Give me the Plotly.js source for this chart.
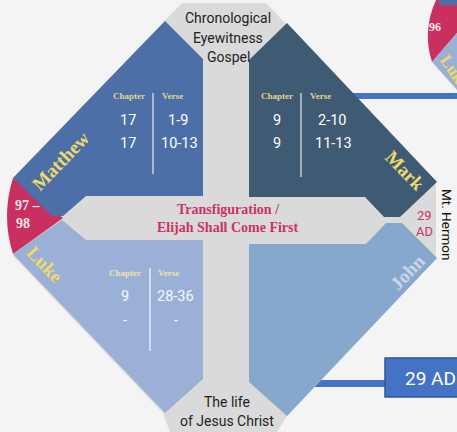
<!DOCTYPE html>
<html><head><meta charset="utf-8">
<script src="https://cdn.plot.ly/plotly-3.0.1.min.js"></script>
<style>html,body{margin:0;padding:0;background:#f4f4f4;overflow:hidden}#chart{width:457px;height:432px;}</style>
</head><body><div id="chart"></div>
<script>
// ---- content ----
const gospels = ['Matthew', 'Mark', 'Luke', 'John'];
const colHeaders = ['Chapter', 'Verse'];
const matthewChapters = ['17', '17'];
const matthewVerses = ['1-9', '10-13'];
const markChapters = ['9', '9'];
const markVerses = ['2-10', '11-13'];
const lukeChapters = ['9', '-'];
const lukeVerses = ['28-36', '-'];
const eventLines = ['Transfiguration /', 'Elijah Shall Come First'];
const topLabel = ['Chronological', 'Eyewitness', 'Gospel'];
const bottomLabel = ['The life', 'of Jesus Christ'];
const writtenDate = ['97 –', '98'];
const eventDate = ['29', 'AD'];
const placeName = ['Mt. Hermon'];
const timelineDate = ['29 AD'];
const neighbourDate = ['96'];
const neighbourGospel = ['Luke'];

// ---- styling / geometry (layout only) ----
const C = {
  bg: '#f4f4f4', grey: '#dadada', matthew: '#4b6fa6', mark: '#3f5a73',
  luke: '#9bb0d6', john: '#86a8cc', red: '#c9305f', link: '#4472c4',
  gold: '#efd96b', head: '#e3d48e', crimson: '#c8336a'
};
const serif = 'Liberation Serif, Times New Roman, serif';
const sans = 'Roboto, Lato, sans-serif';

const shapes = [];
function path(d, fill) {
  shapes.push({type: 'path', path: d, xref: 'x', yref: 'y', fillcolor: fill,
    line: {width: 0, color: fill}, layer: 'below'});
}
function seg(x0, y0, x1, y1, color, w) {
  shapes.push({type: 'line', x0, y0, x1, y1, xref: 'x', yref: 'y',
    line: {color, width: w}, layer: 'below'});
}
// neighbour diagram (top right, cut off)
path('M436,0 L457,0 L457,33 L432,62 Q422,31 436,0 Z', C.red);
path('M438,0 L457,0 L457,5 L440,5 Z', C.matthew);
path('M432,62 L457,33 L457,90 Z', C.luke);
// connector lines
seg(330, 96, 457, 96, C.link, 6);
seg(300, 383.5, 386, 383.5, C.link, 7);
// grey frame / cross
path('M182,3 L266,3 L436,181 L436,259 L287,416 L277,432 L170,432 L163,413 L13,256 L13,178 Z', C.grey);
// red date segment
path('M13,178 L63,218 L13,254 Q1,216 13,178 Z', C.red);
// quadrants
path('M165,21 L203,59 L203,196 L86,196 L63,216 L52,216 L13,178 Z', C.matthew);
path('M287,23 L437,182 L400,217 L384,217 L365,197 L249,197 L249,60 Z', C.mark);
path('M13,254 L62,220 L86,240 L203,240 L203,379 L165,413 Z', C.luke);
path('M249,244 L366,244 L386,223 L402,223 L437,258 L287,416 L249,382 Z', C.john);
// column dividers
seg(153, 93, 153, 174, '#c9d2e2', 1.5);
seg(301, 93, 301, 177, '#c5ccd6', 1.5);
seg(150, 268, 150, 351, '#e8edf6', 1.5);
// timeline box
shapes.push({type: 'rect', x0: 385, x1: 475, y0: 358, y1: 397, xref: 'x', yref: 'y',
  fillcolor: C.link, line: {color: '#2f5597', width: 1.5}, layer: 'below'});

const ann = [];
function t(text, x, y, size, color, family, opts) {
  ann.push(Object.assign({text, x, y, xref: 'x', yref: 'y', showarrow: false,
    xanchor: 'center', yanchor: 'middle', font: {size, color, family}}, opts || {}));
}
// top / bottom labels
topLabel.forEach((s, i) => t(s, 228, 18 + i * 19.5, 14, '#1e1e1e', sans));
bottomLabel.forEach((s, i) => t(s, 227, 402 + i * 18.5, 14, '#1e1e1e', sans));
// event
eventLines.forEach((s, i) => t('<b>' + s + '</b>', 228, 209 + i * 18, 14, C.crimson, serif));

// tables
const tables = [
  {ch: matthewChapters, vs: matthewVerses, cx: 128, vx: 178, hy: 96, ny: 120, dy: 23, head: C.head, num: '#ffffff'},
  {ch: markChapters, vs: markVerses, cx: 277, vx: 332, hy: 96, ny: 120, dy: 23, head: C.head, num: '#ffffff'},
  {ch: lukeChapters, vs: lukeVerses, cx: 125, vx: 175, hy: 273, ny: 296, dy: 24, head: '#efe4a6', num: '#f6f8fc'}
];
const headX = [[129, 172], [277, 320], [125, 168]];
tables.forEach((tb, k) => {
  colHeaders.forEach((h, j) => t('<b>' + h + '</b>', headX[k][j], tb.hy, 9, tb.head, serif));
  tb.ch.forEach((v, i) => t(v, tb.cx, tb.ny + i * tb.dy, 14.5, tb.num, sans));
  tb.vs.forEach((v, i) => t(v, tb.vx + (i ? 1 : 0), tb.ny + i * tb.dy, 14.5, tb.num, sans));
});

// gospel names along the outer edges
const namePos = [[60, 161, -46, C.gold], [405, 170, 46, C.gold], [45, 264, 46, C.gold], [407, 272, -46, '#c9d6e8']];
gospels.forEach((g, i) => t('<b>' + g + '</b>', namePos[i][0], namePos[i][1], 19, namePos[i][3], serif, {textangle: namePos[i][2]}));

// dates
t('<b>' + writtenDate[0] + '</b>', 13, 205, 14, '#f7e8ee', serif, {xanchor: 'left'});
t('<b>' + writtenDate[1] + '</b>', 14, 223, 14, '#f7e8ee', serif, {xanchor: 'left'});
eventDate.forEach((s, i) => t(s, 424, 215 + i * 16, 13, C.crimson, sans));
t(placeName[0], 447, 224, 13.5, '#111111', sans, {textangle: 90});
t(timelineDate[0], 403, 378, 19, '#ffffff', sans, {xanchor: 'left'});
t('<b>' + neighbourDate[0] + '</b>', 435, 27, 12, '#f7e8ee', serif);
t('<b>' + neighbourGospel[0] + '</b>', 455, 72, 17, C.gold, serif, {textangle: 55});

const layout = {
  width: 457, height: 432, margin: {l: 0, r: 0, t: 0, b: 0},
  paper_bgcolor: C.bg, plot_bgcolor: C.bg, showlegend: false,
  xaxis: {range: [0, 457], visible: false, fixedrange: true},
  yaxis: {range: [432, 0], visible: false, fixedrange: true},
  shapes, annotations: ann
};
Plotly.newPlot('chart', [{x: [], y: [], type: 'scatter', mode: 'markers', hoverinfo: 'skip'}], layout, {staticPlot: true, displayModeBar: false});
</script></body></html>
